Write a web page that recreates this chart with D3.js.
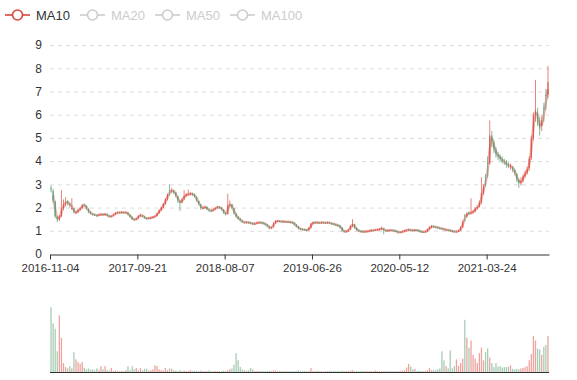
<!DOCTYPE html>
<html>
<head>
<meta charset="utf-8">
<script src="https://cdn.jsdelivr.net/npm/d3@7/dist/d3.min.js"></script>
<style>
  body { margin: 0; background: #fff; }
  svg { display: block; font-family: "Liberation Sans", Arial, sans-serif; }
  .axis text { fill: #333; font-size: 11.5px; }
  .axis path, .axis line { stroke: #333; }
</style>
</head>
<body>
<div id="chart"></div>
<script>
var width = 577,
    height = 380

// [open, close, low, high], roughly one candle per trading week
var ohlc = [
[2.85,2.78,2.65,2.95],[2.72,2.3,2.2,2.8],[2.25,1.62,1.55,2.3],[1.6,1.48,1.37,1.65],[1.48,1.62,1.42,1.68],
[1.62,1.95,1.6,2.75],[1.98,2.15,1.9,2.35],[2.2,2.25,2.05,2.45],[2.28,2.18,2.08,2.32],[2.15,2.12,2.0,2.22],
[1.96,1.98,1.9,2.4],[1.95,1.8,1.74,1.98],[1.78,1.8,1.72,1.85],[1.8,1.9,1.77,1.94],[1.9,1.97,1.86,2.02],
[1.98,2.1,1.95,2.16],[2.12,2.1,2.03,2.18],[2.08,1.95,1.9,2.1],[1.94,1.82,1.76,1.96],[1.8,1.74,1.7,1.84],
[1.73,1.7,1.66,1.76],[1.7,1.68,1.64,1.73],[1.67,1.66,1.6,1.7],[1.66,1.7,1.63,1.73],[1.7,1.71,1.66,1.75],
[1.71,1.69,1.65,1.74],[1.69,1.72,1.66,1.77],[1.71,1.66,1.62,1.73],[1.65,1.6,1.56,1.67],[1.6,1.64,1.58,1.67],
[1.64,1.7,1.62,1.73],[1.7,1.77,1.68,1.8],[1.77,1.79,1.74,1.83],[1.79,1.78,1.74,1.82],[1.78,1.8,1.75,1.84],
[1.8,1.78,1.74,1.82],[1.78,1.79,1.75,1.82],[1.78,1.7,1.66,1.8],[1.69,1.6,1.57,1.71],[1.59,1.5,1.46,1.62],
[1.5,1.47,1.43,1.53],[1.47,1.53,1.45,1.56],[1.53,1.64,1.51,1.68],[1.63,1.68,1.6,1.74],[1.67,1.62,1.58,1.69],
[1.61,1.55,1.51,1.63],[1.55,1.53,1.47,1.57],[1.53,1.55,1.5,1.58],[1.55,1.56,1.51,1.6],[1.57,1.6,1.54,1.63],
[1.6,1.63,1.57,1.67],[1.64,1.75,1.62,1.78],[1.76,1.88,1.73,1.92],[1.88,2.0,1.85,2.04],[2.01,2.15,1.97,2.2],
[2.15,2.35,2.12,2.4],[2.36,2.55,2.3,2.6],[2.75,2.7,2.5,3.0],[2.7,2.74,2.62,2.85],[2.73,2.66,2.58,2.78],
[2.65,2.5,2.44,2.68],[2.48,2.3,2.2,2.5],[2.28,2.2,1.85,2.32],[2.22,2.36,2.18,2.42],[2.38,2.5,2.33,2.75],
[2.5,2.56,2.45,2.62],[2.56,2.58,2.5,2.77],[2.59,2.6,2.52,2.66],[2.6,2.57,2.5,2.64],[2.57,2.48,2.42,2.6],
[2.46,2.3,2.25,2.5],[2.28,2.15,2.1,2.3],[2.13,1.98,1.9,2.15],[1.98,1.99,1.92,2.04],[2.0,2.03,1.96,2.08],
[2.02,1.93,1.88,2.05],[1.92,1.88,1.82,1.95],[1.87,1.86,1.8,1.9],[1.86,1.92,1.84,1.96],[1.92,1.98,1.9,2.02],
[1.98,2.03,1.95,2.07],[2.03,2.0,1.96,2.06],[2.0,1.92,1.87,2.02],[1.91,1.78,1.73,1.93],[1.77,1.7,1.66,1.8],
[1.72,2.1,1.7,2.6],[2.12,2.15,2.02,2.3],[2.14,1.98,1.92,2.16],[1.96,1.75,1.7,1.98],[1.74,1.62,1.56,1.76],
[1.6,1.52,1.47,1.63],[1.51,1.45,1.4,1.55],[1.44,1.38,1.33,1.46],[1.37,1.36,1.31,1.4],[1.36,1.37,1.32,1.41],
[1.37,1.35,1.3,1.4],[1.35,1.33,1.28,1.38],[1.33,1.3,1.25,1.35],[1.3,1.31,1.26,1.35],[1.31,1.35,1.29,1.39],
[1.35,1.36,1.31,1.4],[1.36,1.35,1.3,1.39],[1.35,1.32,1.27,1.37],[1.32,1.27,1.22,1.34],[1.27,1.2,1.15,1.29],
[1.19,1.11,1.06,1.21],[1.11,1.15,1.08,1.18],[1.16,1.33,1.14,1.36],[1.33,1.42,1.3,1.46],[1.42,1.43,1.37,1.46],
[1.43,1.4,1.36,1.45],[1.4,1.39,1.35,1.43],[1.39,1.4,1.35,1.44],[1.4,1.38,1.34,1.42],[1.38,1.39,1.34,1.42],
[1.39,1.37,1.33,1.41],[1.37,1.35,1.3,1.39],[1.35,1.27,1.22,1.36],[1.27,1.18,1.14,1.29],[1.18,1.1,1.06,1.2],
[1.1,1.07,1.03,1.13],[1.07,1.05,1.01,1.1],[1.05,1.04,1.0,1.08],[1.04,1.03,0.99,1.07],[1.03,1.12,1.01,1.15],
[1.13,1.3,1.1,1.34],[1.3,1.36,1.27,1.4],[1.36,1.35,1.31,1.39],[1.35,1.36,1.31,1.4],[1.36,1.34,1.3,1.38],
[1.34,1.36,1.31,1.4],[1.36,1.35,1.31,1.39],[1.35,1.34,1.3,1.38],[1.34,1.36,1.31,1.4],[1.36,1.33,1.29,1.38],
[1.33,1.3,1.26,1.35],[1.3,1.28,1.24,1.33],[1.28,1.25,1.2,1.3],[1.25,1.22,1.17,1.27],[1.22,1.15,1.1,1.24],
[1.14,1.0,0.96,1.16],[1.0,0.96,0.92,1.03],[0.96,0.98,0.93,1.02],[0.98,1.05,0.96,1.08],[1.05,1.2,1.03,1.25],
[1.22,1.3,1.15,1.5],[1.28,1.12,1.08,1.3],[1.12,1.03,0.99,1.14],[1.03,0.99,0.95,1.05],[0.99,0.97,0.93,1.01],
[0.97,0.96,0.92,1.0],[0.96,0.97,0.93,1.0],[0.97,0.98,0.94,1.01],[0.98,1.0,0.95,1.03],[1.0,1.03,0.97,1.06],
[1.03,1.02,0.98,1.05],[1.02,1.04,0.99,1.07],[1.04,1.05,1.0,1.08],[1.05,1.08,1.02,1.12],[1.08,1.1,1.04,1.18],
[1.1,1.03,0.85,1.12],[1.03,1.0,0.96,1.05],[1.0,1.02,0.97,1.05],[1.02,1.03,0.98,1.06],[1.03,1.01,0.97,1.05],
[1.01,1.0,0.96,1.04],[1.0,0.97,0.93,1.02],[0.97,0.93,0.88,0.99],[0.93,0.95,0.9,0.98],[0.95,0.97,0.92,1.0],
[0.97,1.01,0.94,1.04],[1.01,1.03,0.97,1.07],[1.03,1.04,0.99,1.1],[1.04,1.03,0.99,1.07],[1.03,1.02,0.98,1.06],
[1.02,1.03,0.98,1.07],[1.03,1.02,0.98,1.06],[1.02,0.98,0.94,1.04],[0.98,0.96,0.92,1.0],[0.96,0.95,0.91,0.99],
[0.95,0.97,0.92,1.0],[0.97,1.06,0.95,1.09],[1.06,1.14,1.03,1.2],[1.14,1.2,1.1,1.25],[1.2,1.17,1.13,1.23],
[1.17,1.15,1.11,1.2],[1.15,1.13,1.09,1.18],[1.13,1.1,1.06,1.15],[1.1,1.09,1.05,1.13],[1.09,1.06,1.02,1.11],
[1.03,1.04,1.0,1.09],[1.04,1.02,0.98,1.06],[1.02,1.0,0.96,1.05],[1.0,0.98,0.94,1.02],[0.98,0.96,0.92,1.01],
[0.96,0.97,0.93,1.0],[0.97,1.01,0.95,1.05],[1.01,1.15,0.99,1.2],[1.15,1.4,1.12,1.45],[1.66,1.62,1.4,1.72],
[1.62,1.74,1.58,1.8],[1.78,1.76,1.68,1.84],[1.74,1.78,1.7,2.4],[1.79,1.83,1.74,1.9],[1.84,1.96,1.8,2.02],
[1.97,2.02,1.92,2.1],[2.05,2.2,2.0,2.3],[2.22,2.6,2.15,3.3],[2.62,2.9,2.55,3.0],[3.3,3.25,2.9,3.45],
[3.95,3.9,3.3,4.2],[3.9,5.1,3.85,5.75],[5.1,4.85,4.6,5.3],[4.8,4.5,4.35,4.9],[4.5,4.3,4.15,4.6],
[4.3,4.2,4.05,4.4],[4.2,4.1,3.98,4.3],[4.08,4.0,3.9,4.2],[4.0,3.95,3.84,4.1],[3.94,3.84,3.72,4.05],
[3.84,3.8,3.7,3.95],[3.75,3.78,3.64,3.9],[3.74,3.64,3.52,3.8],[3.62,3.48,3.38,3.66],[3.45,3.22,3.1,3.5],
[3.2,3.05,2.85,3.25],[3.05,3.15,2.95,3.3],[3.15,3.35,3.08,3.42],[3.35,3.5,3.28,3.6],[3.5,3.65,3.42,3.75],
[3.7,4.1,3.6,4.2],[4.15,4.95,4.05,5.1],[5.0,5.95,4.9,6.1],[6.0,6.2,5.7,7.5],[6.1,5.7,5.5,6.3],
[5.75,5.4,5.1,5.9],[5.5,5.75,5.3,5.95],[6.3,6.25,5.7,6.5],[6.85,6.8,6.2,7.1],[6.85,7.4,6.7,8.1]
]

var volumes = [
72,54,48,23,63,38,10,5.5,4,6.5, 4,22,14,11,9,11,4.5,3,4,2.5,
3,2,4,2,6.5,3,6.5,2,1.5,4.5, 1,1.5,1,1,1.2,1,2,6.5,2,6.5,
3,4.5,2,4.5,2,3.5,3.5,1.5,2,3, 7.5,6.5,3,2,1.5,4.5,2,4,3.5,2,
1.5,1,2,1,1.5,1,1,2,1,1.5, 1,1,1.5,1,1,1,2,1,1,1,
1,1,1,1.5,1,2,3,4,8,21, 13,5.5,3,2,1.5,2,4.5,3,1,1,
1,1,1,1,1,1.5,1,2,1.5,1, 1,1,1,1,1,1,1,1,1,2,
1,1,1,1,1,4.5,1,1,1.5,1, 1,0.5,1,1,1.5,1,1,1,1,1,
1.5,1,1,1,1.5,2,1,1,1,1, 1,1,1,1,1,1,1.5,1,1,1,
1,1,1,1,1,1,1,1,1,1.5, 2,5,9,6,3,3.5,1,1.5,1,1,
1,2,4.5,2,2.5,2,3,4,23,13, 6.5,4,24,4,6.5,14,7,10,15,58,
38,27,35,19,15,10,21,27,13,22, 26,16,10,5.5,10,6,6.5,5,5.5,5.5,
6,7.5,3.5,3,3.5,3,4,4.5,5.5,6.5, 13,20,40,35,26,25,19,28,30,40
]

var tickIndex = [0, 42, 84, 126, 168, 210]
var tickLabels = ["2016-11-04", "2017-09-21", "2018-08-07", "2019-06-26", "2020-05-12", "2021-03-24"]
var legendNames = ["MA10", "MA20", "MA50", "MA100"]
var maWindow = 2 // 10 trading days = 2 weekly candles

var upColor = "#dc4a3c",
    downColor = "#4f9a6c",
    maColor = "#d9534a"

var svg = d3.select("#chart").append("svg")
  .attr("width", width)
  .attr("height", height)

var x = d3.scaleLinear().domain([0, ohlc.length]).range([50, 549])
var y = d3.scaleLinear().domain([0, 9]).range([254, 45])
var yVol = d3.scaleLinear().domain([0, 80]).range([372, 300])
var step = x(1) - x(0)
var bodyW = step * 0.62

// dashed split lines
svg.append("g")
  .selectAll("line")
  .data(y.ticks(9).filter(function(d){ return d > 0 }))
  .enter().append("line")
  .attr("x1", 50).attr("x2", 549)
  .attr("y1", function(d){ return y(d) + 0.5 })
  .attr("y2", function(d){ return y(d) + 0.5 })
  .attr("stroke", "#ddd")
  .attr("stroke-dasharray", "4,4")

// y axis, labels only
var yAxis = svg.append("g")
  .attr("class", "axis")
  .attr("transform", "translate(50,0)")
  .call(d3.axisLeft(y).ticks(9).tickSize(0).tickPadding(8))
yAxis.select(".domain").remove()
yAxis.selectAll("text").style("font-size", "12px")

// x axis
svg.append("g")
  .attr("class", "axis")
  .attr("transform", "translate(0,254.5)")
  .call(d3.axisBottom(x).tickValues(tickIndex)
    .tickFormat(function(d, i){ return tickLabels[i] })
    .tickSize(5).tickSizeOuter(0).tickPadding(4))

// MA10 line from the closes, drawn under the candles
var ma = []
ohlc.forEach(function(d, i){
  if (i < maWindow - 1) return
  var s = 0
  for (var k = 0; k < maWindow; k++) s += ohlc[i - k][1]
  ma.push([i, s / maWindow])
})

svg.append("path")
  .datum(ma)
  .attr("fill", "none")
  .attr("stroke", maColor)
  .attr("stroke-width", 2.5)
  .attr("stroke-opacity", 0.45)
  .attr("d", d3.line()
    .x(function(d){ return x(d[0] + 0.5) })
    .y(function(d){ return y(d[1]) })
    .curve(d3.curveMonotoneX))

// candles
var candles = svg.append("g").selectAll("g")
  .data(ohlc)
  .enter().append("g")
  .attr("opacity", 0.85)

candles.append("line")
  .attr("x1", function(d, i){ return x(i + 0.5) })
  .attr("x2", function(d, i){ return x(i + 0.5) })
  .attr("y1", function(d){ return y(d[3]) })
  .attr("y2", function(d){ return y(d[2]) })
  .attr("stroke", function(d){ return d[1] >= d[0] ? upColor : downColor })
  .attr("stroke-width", 0.8)

candles.append("rect")
  .attr("x", function(d, i){ return x(i + 0.5) - bodyW / 2 })
  .attr("width", bodyW)
  .attr("y", function(d){ return y(Math.max(d[0], d[1])) })
  .attr("height", function(d){ return Math.max(1, Math.abs(y(d[0]) - y(d[1]))) })
  .attr("fill", function(d){ return d[1] >= d[0] ? upColor : downColor })

// volume bars
svg.append("g").selectAll("rect")
  .data(volumes)
  .enter().append("rect")
  .attr("x", function(d, i){ return x(i + 0.5) - bodyW / 2 })
  .attr("width", bodyW)
  .attr("y", function(d){ return yVol(d) })
  .attr("height", function(d){ return yVol(0) - yVol(d) })
  .attr("fill", function(d, i){ return ohlc[i][1] >= ohlc[i][0] ? upColor : downColor })
  .attr("opacity", 0.5)

svg.append("line")
  .attr("x1", 50).attr("x2", 549)
  .attr("y1", 372.5).attr("y2", 372.5)
  .attr("stroke", "#333")

// legend, only MA10 is switched on
var legend = svg.append("g").selectAll("g")
  .data(legendNames)
  .enter().append("g")
  .attr("transform", function(d, i){ return "translate(" + (5 + i * 75) + ",15)" })

legend.append("line")
  .attr("x1", 0).attr("x2", 25)
  .attr("stroke", function(d, i){ return i == 0 ? "#d9463c" : "#ccc" })
  .attr("stroke-width", 1.6)

legend.append("circle")
  .attr("cx", 12.5).attr("r", 5)
  .attr("fill", "#fff")
  .attr("stroke", function(d, i){ return i == 0 ? "#d9463c" : "#ccc" })
  .attr("stroke-width", 1.6)

legend.append("text")
  .attr("x", 31)
  .attr("dy", "0.35em")
  .style("font-size", "13px")
  .attr("fill", function(d, i){ return i == 0 ? "#333" : "#ccc" })
  .text(function(d){ return d })
</script>
</body>
</html>
